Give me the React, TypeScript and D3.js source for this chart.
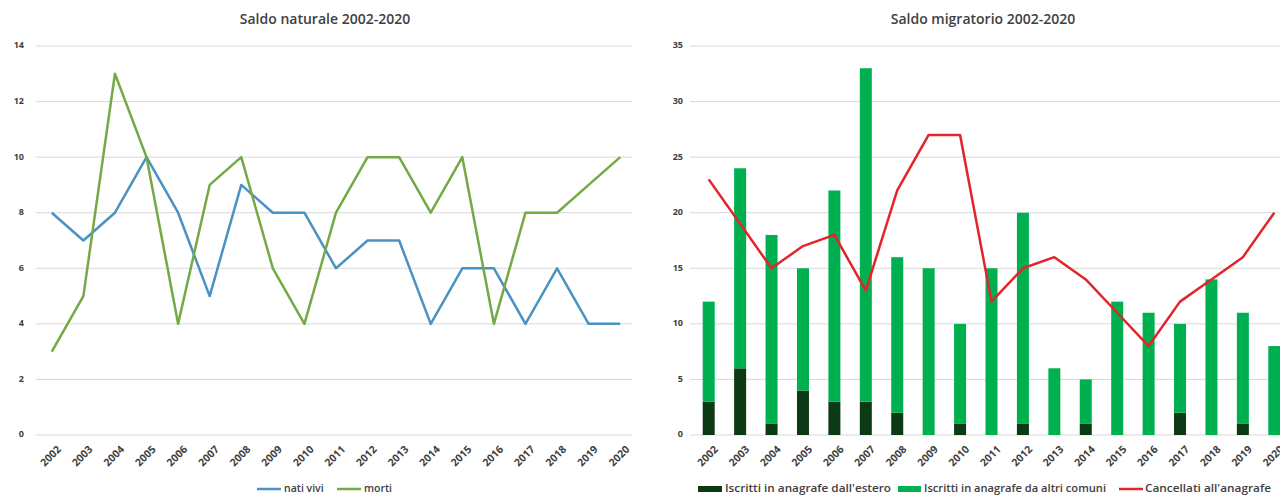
import React from "react";
import * as d3 from "d3";

// Years shared by both panels
const years = [
  "2002", "2003", "2004", "2005", "2006", "2007", "2008", "2009", "2010", "2011",
  "2012", "2013", "2014", "2015", "2016", "2017", "2018", "2019", "2020",
];

// Saldo naturale
const natiVivi = [8, 7, 8, 10, 8, 5, 9, 8, 8, 6, 7, 7, 4, 6, 6, 4, 6, 4, 4];
const morti = [3, 5, 13, 10, 4, 9, 10, 6, 4, 8, 10, 10, 8, 10, 4, 8, 8, 9, 10];
const leftTicks = [0, 2, 4, 6, 8, 10, 12, 14];

// Saldo migratorio
const iscrittiEstero = [3, 6, 1, 4, 3, 3, 2, 0, 1, 0, 1, 0, 1, 0, 0, 2, 0, 1, 0];
const iscrittiComuni = [9, 18, 17, 11, 19, 30, 14, 15, 9, 15, 19, 6, 4, 12, 11, 8, 14, 10, 8];
const cancellati = [23, 19, 15, 17, 18, 13, 22, 27, 27, 12, 15, 16, 14, 11, 8, 12, 14, 16, 20];
const rightTicks = [0, 5, 10, 15, 20, 25, 30, 35];

const FONT = "'Open Sans', 'Liberation Sans', sans-serif";
const GRID = "#d9d9d9";
const TEXT = "#404040";
const BLUE = "#4a92c3";
const GREEN_LINE = "#74a946";
const DARK = "#0c3a14";
const LIGHT = "#00b050";
const RED = "#e2242b";

const TOP = 46;
const BOTTOM = 435;

function XLabels({ x }: { x: d3.ScalePoint<string> }) {
  return (
    <g>
      {years.map((yr) => (
        <text
          key={yr}
          transform={`translate(${(x(yr) as number) + 8},${BOTTOM + 13}) rotate(-45)`}
          textAnchor="end"
          dominantBaseline="middle"
          fontSize={10.5}
          fontWeight={700}
          fill={TEXT}
        >
          {yr}
        </text>
      ))}
    </g>
  );
}

function LeftChart() {
  const x = d3.scalePoint<string>().domain(years).range([36, 636]).padding(0.5);
  const y = d3.scaleLinear().domain([0, 14]).range([BOTTOM, TOP]);
  const line = d3
    .line<number>()
    .x((_, i) => x(years[i]) as number)
    .y((d) => y(d));
  return (
    <g>
      <text x={325} y={24} textAnchor="middle" fontSize={14} fontWeight={600} fill={TEXT}>
        Saldo naturale 2002-2020
      </text>
      {leftTicks.map((t) => (
        <g key={t}>
          <line x1={36} x2={632} y1={y(t)} y2={y(t)} stroke={GRID} strokeWidth={1} />
          <text x={24} y={y(t)} textAnchor="end" dominantBaseline="middle" fontSize={9} fontWeight={700} fill={TEXT}>
            {t}
          </text>
        </g>
      ))}
      <path d={line(natiVivi) as string} fill="none" stroke={BLUE} strokeWidth={2.5} strokeLinejoin="round" />
      <path d={line(morti) as string} fill="none" stroke={GREEN_LINE} strokeWidth={2.5} strokeLinejoin="round" />
      <XLabels x={x} />
      <g fontSize={10.5} fontWeight={600} fill={TEXT}>
        <line x1={257} x2={281} y1={489} y2={489} stroke={BLUE} strokeWidth={2.5} />
        <text x={284} y={489} dominantBaseline="middle">nati vivi</text>
        <line x1={337} x2={361} y1={489} y2={489} stroke={GREEN_LINE} strokeWidth={2.5} />
        <text x={364} y={489} dominantBaseline="middle">morti</text>
      </g>
    </g>
  );
}

function RightChart() {
  const x = d3.scalePoint<string>().domain(years).range([693, 1290]).padding(0.5);
  const y = d3.scaleLinear().domain([0, 35]).range([BOTTOM, TOP]);
  const bw = 12;
  const line = d3
    .line<number>()
    .x((_, i) => x(years[i]) as number)
    .y((d) => y(d));
  return (
    <g>
      <text x={983} y={24} textAnchor="middle" fontSize={14} fontWeight={600} fill={TEXT}>
        Saldo migratorio 2002-2020
      </text>
      {rightTicks.map((t) => (
        <g key={t}>
          <line x1={690} x2={1290} y1={y(t)} y2={y(t)} stroke={GRID} strokeWidth={1} />
          <text x={683} y={y(t)} textAnchor="end" dominantBaseline="middle" fontSize={9} fontWeight={700} fill={TEXT}>
            {t}
          </text>
        </g>
      ))}
      {years.map((yr, i) => {
        const cx = x(yr) as number;
        const d = iscrittiEstero[i];
        const c = iscrittiComuni[i];
        return (
          <g key={yr}>
            <rect x={cx - bw / 2} y={y(d)} width={bw} height={y(0) - y(d)} fill={DARK} />
            <rect x={cx - bw / 2} y={y(d + c)} width={bw} height={y(d) - y(d + c)} fill={LIGHT} />
          </g>
        );
      })}
      <path d={line(cancellati) as string} fill="none" stroke={RED} strokeWidth={2.5} strokeLinejoin="round" />
      <XLabels x={x} />
      <g fontSize={11} fontWeight={600} fill={TEXT}>
        <rect x={698} y={486} width={24} height={6} fill={DARK} />
        <text x={725} y={489} dominantBaseline="middle" textLength={166} lengthAdjust="spacingAndGlyphs">
          Iscritti in anagrafe dall'estero
        </text>
        <rect x={898} y={486} width={23} height={6} fill={LIGHT} />
        <text x={924} y={489} dominantBaseline="middle" textLength={182} lengthAdjust="spacingAndGlyphs">
          Iscritti in anagrafe da altri comuni
        </text>
        <line x1={1119} x2={1143} y1={489} y2={489} stroke={RED} strokeWidth={2.5} />
        <text x={1145} y={489} dominantBaseline="middle" textLength={126} lengthAdjust="spacingAndGlyphs">
          Cancellati all'anagrafe
        </text>
      </g>
    </g>
  );
}

export default function App() {
  return (
    <svg
      width={1280}
      height={496}
      style={{ position: "absolute", left: 0, top: 0, background: "#fff" }}
      fontFamily={FONT}
    >
      <rect width={1280} height={496} fill="#fff" />
      <LeftChart />
      <RightChart />
    </svg>
  );
}
